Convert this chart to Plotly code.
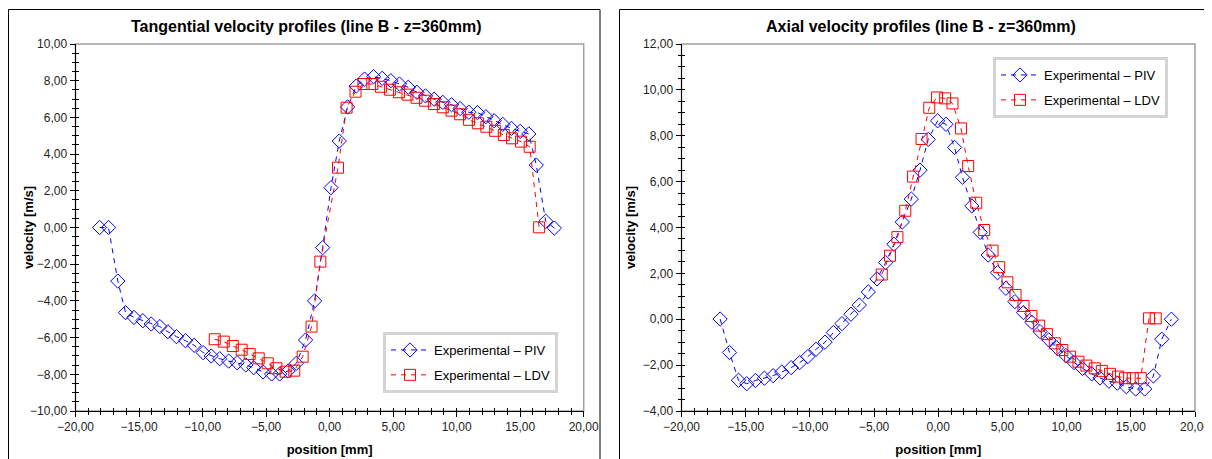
import plotly.graph_objects as go

# the page body keeps its default 8px margin, so the figure is drawn 8px
# smaller and every reference pixel position is shifted by that offset
OFF = 8
W, H = 1212 - OFF, 459 - OFF

# tangential velocity (left chart)
tan_piv_pos = [-18.1, -17.4, -16.67, -16.06, -15.4, -14.7, -14.04, -13.36, -12.73, -12.05,
               -11.34, -10.66, -9.95, -9.32, -8.65, -7.94, -7.28, -6.6, -5.97, -5.24,
               -4.56, -3.93, -3.27, -2.62, -1.89, -1.18, -0.55, 0.11, 0.76, 1.42,
               2.1, 2.75, 3.46, 4.14, 4.82, 5.5, 6.19, 6.87, 7.55, 8.23,
               8.91, 9.6, 10.27, 10.96, 11.64, 12.3, 12.95, 13.63, 14.31, 15.0,
               15.68, 16.27, 17.01, 17.69]
tan_piv_vel = [0.0, 0.0, -2.92, -4.64, -4.9, -5.08, -5.26, -5.4, -5.68, -5.95,
               -6.17, -6.42, -6.82, -7.0, -7.15, -7.28, -7.37, -7.49, -7.64, -7.87,
               -7.98, -7.98, -7.82, -7.4, -6.13, -4.0, -1.1, 2.17, 4.71, 6.57,
               7.71, 8.09, 8.22, 8.13, 8.0, 7.82, 7.64, 7.37, 7.17, 6.99,
               6.82, 6.69, 6.48, 6.28, 6.26, 6.04, 5.82, 5.62, 5.4, 5.24,
               5.1, 3.4, 0.34, -0.03]
tan_ldv_pos = [-9.04, -8.33, -7.62, -6.92, -6.29, -5.58, -4.87, -4.19, -3.46, -2.78,
               -2.12, -1.42, -0.73, 0.66, 1.34, 2.04, 2.67, 3.36, 4.04, 4.75,
               5.46, 6.13, 6.84, 7.52, 8.21, 8.91, 9.6, 10.27, 10.98, 11.67,
               12.34, 13.03, 13.71, 14.36, 15.07, 15.75, 16.49]
tan_ldv_vel = [-6.09, -6.22, -6.46, -6.66, -6.89, -7.13, -7.4, -7.67, -7.86, -7.8,
               -7.04, -5.4, -1.86, 3.26, 6.53, 7.4, 7.82, 7.82, 7.67, 7.51,
               7.37, 7.24, 7.07, 6.91, 6.73, 6.55, 6.37, 6.17, 5.87, 5.68,
               5.49, 5.27, 5.04, 4.86, 4.68, 4.4, 0.01]

# axial velocity (right chart)
ax_piv_pos = [-16.99, -16.26, -15.56, -14.92, -14.24, -13.54, -12.86, -12.19, -11.46, -10.79,
              -10.16, -9.52, -8.82, -8.17, -7.5, -6.8, -6.15, -5.45, -4.77, -4.1,
              -3.45, -2.8, -2.1, -1.42, -0.78, -0.05, 0.6, 1.27, 1.89, 2.62,
              3.27, 3.89, 4.62, 5.27, 5.97, 6.64, 7.29, 7.93, 8.61, 9.23,
              9.94, 10.58, 11.23, 11.96, 12.6, 13.3, 13.95, 14.65, 15.38, 16.08,
              16.76, 17.41, 18.16]
ax_piv_vel = [0.01, -1.45, -2.66, -2.81, -2.67, -2.57, -2.46, -2.3, -2.11, -1.89,
              -1.63, -1.31, -1.0, -0.58, -0.19, 0.22, 0.62, 1.19, 1.76, 2.47,
              3.27, 4.24, 5.24, 6.5, 7.84, 8.65, 8.5, 7.49, 6.19, 4.94,
              3.79, 2.8, 2.03, 1.35, 0.77, 0.29, -0.13, -0.54, -0.9, -1.24,
              -1.58, -1.89, -2.14, -2.38, -2.56, -2.7, -2.79, -2.94, -3.04, -3.04,
              -2.47, -0.87, 0.0]
ax_ldv_pos = [-4.4, -3.76, -3.18, -2.57, -1.96, -1.3, -0.7, -0.1, 0.54, 1.11,
              1.77, 2.33, 2.96, 3.58, 4.23, 4.75, 5.39, 6.02, 6.64, 7.26,
              7.86, 8.46, 9.08, 9.67, 10.27, 10.92, 11.54, 12.19, 12.74, 13.38,
              14.01, 14.55, 15.15, 15.77, 16.42, 16.94]
ax_ldv_vel = [1.95, 2.77, 3.58, 4.73, 6.22, 7.86, 9.22, 9.67, 9.63, 9.41,
              8.32, 6.68, 5.08, 3.89, 2.99, 2.27, 1.61, 1.06, 0.58, 0.14,
              -0.28, -0.65, -1.05, -1.34, -1.63, -1.85, -2.02, -2.14, -2.25, -2.38,
              -2.5, -2.57, -2.57, -2.57, 0.04, 0.04]

piv_name = 'Experimental \u2013 PIV'
ldv_name = 'Experimental \u2013 LDV'
FONT = 'Liberation Sans, Arial, sans-serif'
BLUE = '#0000FF'
RED = '#FF0000'

# reference pixel positions -> paper fractions
def px_x(v):
    return (v - OFF) / W

def px_y(v):
    return 1 - (v - OFF) / H

left_dom = [px_x(75.5), px_x(583.7)]
right_dom = [px_x(681.5), px_x(1195)]
y_dom = [px_y(411), px_y(44)]


def make_trace(x, y, name, color, symbol, size, xa, ya, legend):
    return go.Scatter(
        x=x, y=y, name=name, mode='lines+markers',
        line=dict(color=color, width=1, dash='5px,5px'),
        marker=dict(symbol=symbol, size=size, color=color, line=dict(color=color, width=1)),
        xaxis=xa, yaxis=ya, legend=legend, legendgroup=name + legend,
    )


fig = go.Figure()
fig.add_trace(make_trace(tan_piv_pos, tan_piv_vel, piv_name, BLUE, 'diamond-open', 11, 'x', 'y', 'legend'))
fig.add_trace(make_trace(tan_ldv_pos, tan_ldv_vel, ldv_name, RED, 'square-open', 11, 'x', 'y', 'legend'))
fig.add_trace(make_trace(ax_piv_pos, ax_piv_vel, piv_name, BLUE, 'diamond-open', 11, 'x2', 'y2', 'legend2'))
fig.add_trace(make_trace(ax_ldv_pos, ax_ldv_vel, ldv_name, RED, 'square-open', 11, 'x2', 'y2', 'legend2'))

# empty traces so the overlay axes (inner half of the cross ticks) get drawn
fig.add_trace(go.Scatter(x=[], y=[], xaxis='x3', yaxis='y3', showlegend=False))
fig.add_trace(go.Scatter(x=[], y=[], xaxis='x4', yaxis='y4', showlegend=False))

tickfont = dict(family=FONT, size=12, color='#222222')
titlefont = dict(family=FONT, size=13, color='#000000')


def main_x(domain, anchor):
    return dict(domain=domain, anchor=anchor, range=[-20, 20], dtick=5, tick0=0,
                tickformat='.2f', ticks='outside', ticklen=5, tickcolor='#000000',
                minor=dict(dtick=1, ticks='outside', ticklen=3, tickcolor='#000000'),
                showline=True, linecolor='#000000', linewidth=1, automargin=False,
                showgrid=False, zeroline=False, tickfont=tickfont,
                title=dict(text='<b>position [mm]</b>', font=titlefont, standoff=11))


def main_y(domain, anchor, rng):
    return dict(domain=domain, anchor=anchor, range=rng, dtick=2, tick0=0,
                tickformat='.2f', ticks='outside', ticklen=5, tickcolor='#000000',
                minor=dict(dtick=0.5, ticks='outside', ticklen=3, tickcolor='#000000'),
                showline=True, linecolor='#000000', linewidth=1, automargin=False,
                showgrid=False, zeroline=False, tickfont=tickfont)


def inner_x(over, anchor):
    return dict(overlaying=over, anchor=anchor, range=[-20, 20], dtick=5, tick0=0,
                ticks='inside', ticklen=3, tickcolor='#000000', showticklabels=False,
                minor=dict(dtick=1, ticks='inside', ticklen=3, tickcolor='#000000'),
                showline=False, showgrid=False, zeroline=False, automargin=False)


def inner_y(over, anchor, rng):
    return dict(overlaying=over, anchor=anchor, range=rng, dtick=2, tick0=0,
                ticks='inside', ticklen=3, tickcolor='#000000', showticklabels=False,
                minor=dict(dtick=0.5, ticks='inside', ticklen=3, tickcolor='#000000'),
                showline=False, showgrid=False, zeroline=False, automargin=False)


legend_style = dict(bgcolor='#FFFFFF', bordercolor='#D4D4D4', borderwidth=3,
                    font=dict(family=FONT, size=13, color='#000000'),
                    itemwidth=38, tracegroupgap=5, xanchor='left', yanchor='top')

fig.update_layout(
    width=W, height=H,
    margin=dict(l=0, r=0, t=0, b=0, autoexpand=False),
    paper_bgcolor='#FFFFFF', plot_bgcolor='#FFFFFF',
    separators=', ',
    font=dict(family=FONT),
    xaxis=main_x(left_dom, 'y'),
    yaxis=main_y(y_dom, 'x', [-10, 10]),
    xaxis2=main_x(right_dom, 'y2'),
    yaxis2=main_y(y_dom, 'x2', [-4, 12]),
    xaxis3=inner_x('x', 'y3'),
    yaxis3=inner_y('y', 'x3', [-10, 10]),
    xaxis4=inner_x('x2', 'y4'),
    yaxis4=inner_y('y2', 'x4', [-4, 12]),
    legend=dict(x=px_x(383), y=px_y(332), **legend_style),
    legend2=dict(x=px_x(993), y=px_y(57), **legend_style),
    showlegend=True,
)

# chart titles
fig.add_annotation(text='<b>Tangential velocity profiles (line B - z=360mm)</b>',
                   x=px_x(306), y=px_y(26), xref='paper', yref='paper',
                   xanchor='center', yanchor='middle', showarrow=False,
                   font=dict(family=FONT, size=16, color='#000000'))
fig.add_annotation(text='<b>Axial velocity profiles (line B - z=360mm)</b>',
                   x=px_x(921), y=px_y(26), xref='paper', yref='paper',
                   xanchor='center', yanchor='middle', showarrow=False,
                   font=dict(family=FONT, size=16, color='#000000'))

# y axis titles
for xpos in (28, 630):
    fig.add_annotation(text='<b>velocity [m/s]</b>', textangle=-90,
                       x=px_x(xpos), y=px_y(228), xref='paper', yref='paper',
                       xanchor='center', yanchor='middle', showarrow=False, font=titlefont)

# outer chart frames
fig.add_shape(type='rect', xref='paper', yref='paper', x0=px_x(8.5), x1=px_x(600),
              y0=-0.1, y1=px_y(9.5), line=dict(color='#000000', width=1), layer='below')
fig.add_shape(type='rect', xref='paper', yref='paper', x0=px_x(619.5), x1=px_x(1210),
              y0=-0.1, y1=px_y(9.5), line=dict(color='#000000', width=1), layer='below')

# gray plot-area borders (top/right)
fig.add_shape(type='rect', xref='paper', yref='paper', x0=left_dom[0], x1=left_dom[1],
              y0=y_dom[0], y1=y_dom[1], line=dict(color='#A0A0A0', width=1.5), layer='below')
fig.add_shape(type='rect', xref='paper', yref='paper', x0=right_dom[0], x1=right_dom[1],
              y0=y_dom[0], y1=y_dom[1], line=dict(color='#A0A0A0', width=1.5), layer='below')

fig.write_html('out.html')
